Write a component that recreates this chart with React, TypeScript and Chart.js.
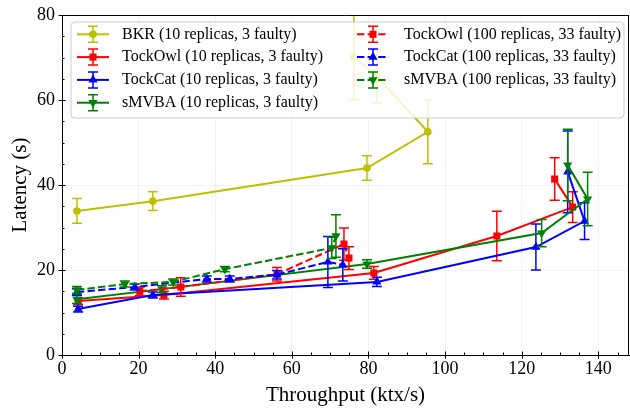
import React, { useEffect, useRef } from "react";
import { Chart, registerables } from "chart.js";

Chart.register(...registerables);

const FONT = "'Liberation Serif', 'Times New Roman', Times, serif";

// ---- axis ranges / ticks ----
const X_MIN = 0;
const X_MAX = 148;
const Y_MIN = 0;
const Y_MAX = 80;
const X_TICKS = [0, 20, 40, 60, 80, 100, 120, 140];
const Y_TICKS = [0, 20, 40, 60, 80];
const X_TITLE = "Throughput (ktx/s)";
const Y_TITLE = "Latency (s)";

// ---- series labels ----
const LABELS = [
  "BKR (10 replicas, 3 faulty)",
  "TockOwl (10 replicas, 3 faulty)",
  "TockCat (10 replicas, 3 faulty)",
  "sMVBA (10 replicas, 3 faulty)",
  "TockOwl (100 replicas, 33 faulty)",
  "TockCat (100 replicas, 33 faulty)",
  "sMVBA (100 replicas, 33 faulty)",
];

// ---- data (throughput ktx/s, latency s, latency error s) ----
const BKR_X = [3.9, 23.7, 79.6, 95.5, 82.2, 76.2];
const BKR_Y = [33.9, 36.2, 44.0, 52.5, 65.5, 70.1];
const BKR_E = [2.9, 2.2, 2.9, 7.5, 6.2, 10.0];

const OWL10_X = [4.2, 26.6, 81.4, 113.5, 133.3, 128.6];
const OWL10_Y = [12.7, 14.1, 19.3, 28.0, 34.8, 41.4];
const OWL10_E = [0.8, 0.9, 1.5, 5.8, 3.6, 5.0];

const CAT10_X = [4.2, 23.7, 82.2, 123.7, 136.4, 132.0];
const CAT10_Y = [10.8, 14.1, 17.2, 25.4, 31.5, 43.1];
const CAT10_E = [0.7, 0.7, 1.1, 5.4, 4.3, 9.6];

const SMVBA10_X = [3.9, 26.1, 79.6, 125.2, 137.2, 132.0];
const SMVBA10_Y = [13.1, 15.5, 21.4, 28.7, 36.7, 44.7];
const SMVBA10_E = [1.0, 0.8, 1.0, 3.2, 6.3, 8.4];

const OWL100_X = [20.3, 31.0, 56.1, 73.6, 74.9];
const OWL100_Y = [15.0, 16.0, 19.0, 26.1, 22.8];
const OWL100_E = [1.0, 2.2, 1.6, 3.8, 2.7];

const CAT100_X = [3.9, 19.0, 37.8, 43.8, 56.1, 69.4, 73.3];
const CAT100_Y = [14.8, 16.0, 17.9, 17.9, 18.9, 21.9, 21.2];
const CAT100_E = [0.8, 0.7, 0.7, 0.7, 1.0, 6.0, 3.8];

const SMVBA100_X = [3.9, 16.4, 29.0, 42.5, 70.4, 71.5];
const SMVBA100_Y = [15.3, 16.7, 17.2, 20.2, 25.2, 28.0];
const SMVBA100_E = [0.8, 0.7, 0.7, 0.6, 2.5, 5.0];

const SERIES = [
  { x: BKR_X, y: BKR_Y, e: BKR_E },
  { x: OWL10_X, y: OWL10_Y, e: OWL10_E },
  { x: CAT10_X, y: CAT10_Y, e: CAT10_E },
  { x: SMVBA10_X, y: SMVBA10_Y, e: SMVBA10_E },
  { x: OWL100_X, y: OWL100_Y, e: OWL100_E },
  { x: CAT100_X, y: CAT100_Y, e: CAT100_E },
  { x: SMVBA100_X, y: SMVBA100_Y, e: SMVBA100_E },
];

// ---- styles ----
const COLORS = ["#bfbf00", "#ff0000", "#0000ff", "#008000", "#ff0000", "#0000ff", "#008000"];
const MARKERS = ["circle", "square", "up", "down", "square", "up", "down"];
const DASHED = [false, false, false, false, true, true, true];
const DASH = [7.4, 3.2];
const LINE_W = 2;
const ERR_W = 1.5;
const CAP = 5;

function markerRadius(kind: string) {
  if (kind === "circle") return 3.8;
  if (kind === "square") return 5;
  return 5.3;
}

function drawMarker(ctx: CanvasRenderingContext2D, kind: string, x: number, y: number, color: string) {
  const r = markerRadius(kind);
  ctx.save();
  ctx.fillStyle = color;
  ctx.beginPath();
  if (kind === "circle") {
    ctx.arc(x, y, r, 0, Math.PI * 2);
  } else if (kind === "square") {
    const s = Math.SQRT1_2 * r;
    ctx.rect(x - s, y - s, 2 * s, 2 * s);
  } else {
    let a = kind === "up" ? 0 : Math.PI;
    for (let k = 0; k < 3; k++) {
      const px = x + Math.sin(a) * r;
      const py = y - Math.cos(a) * r;
      if (k === 0) ctx.moveTo(px, py);
      else ctx.lineTo(px, py);
      a += (2 * Math.PI) / 3;
    }
    ctx.closePath();
  }
  ctx.fill();
  ctx.restore();
}

function drawErrBar(ctx: CanvasRenderingContext2D, x: number, y1: number, y2: number, color: string) {
  ctx.save();
  ctx.strokeStyle = color;
  ctx.lineWidth = ERR_W;
  ctx.setLineDash([]);
  ctx.beginPath();
  ctx.moveTo(x, y1);
  ctx.lineTo(x, y2);
  ctx.moveTo(x - CAP, y1);
  ctx.lineTo(x + CAP, y1);
  ctx.moveTo(x - CAP, y2);
  ctx.lineTo(x + CAP, y2);
  ctx.stroke();
  ctx.restore();
}

const errorBarPlugin = {
  id: "errorBars",
  beforeDatasetDraw(chart: any, args: any) {
    const i = args.index;
    const s = SERIES[i];
    if (!s) return;
    const { ctx, chartArea } = chart;
    const xs = chart.scales.x;
    const ys = chart.scales.y;
    ctx.save();
    ctx.beginPath();
    ctx.rect(chartArea.left, chartArea.top, chartArea.right - chartArea.left, chartArea.bottom - chartArea.top);
    ctx.clip();
    for (let j = 0; j < s.x.length; j++) {
      const px = xs.getPixelForValue(s.x[j]);
      const pTop = ys.getPixelForValue(s.y[j] + s.e[j]);
      const pBot = ys.getPixelForValue(s.y[j] - s.e[j]);
      drawErrBar(ctx, px, pTop, pBot, COLORS[i]);
    }
    ctx.restore();
  },
};

const framePlugin = {
  id: "frameLegend",
  afterDraw(chart: any) {
    const { ctx, chartArea } = chart;
    const { left, right, top, bottom } = chartArea;
    const xs = chart.scales.x;
    const ys = chart.scales.y;
    ctx.save();
    ctx.strokeStyle = "#000";
    ctx.lineWidth = 1;
    ctx.beginPath();
    ctx.moveTo(left, top + 0.5);
    ctx.lineTo(right, top + 0.5);
    ctx.moveTo(right - 0.5, top);
    ctx.lineTo(right - 0.5, bottom);
    ctx.stroke();

    // ticks
    ctx.beginPath();
    for (let v = X_MIN; v <= X_MAX; v += 5) {
      const px = Math.round(xs.getPixelForValue(v)) + 0.5;
      const major = v % 20 === 0;
      ctx.moveTo(px, bottom + (major ? 3.5 : 0));
      ctx.lineTo(px, bottom - (major ? 3.5 : 2.5));
    }
    for (let v = Y_MIN; v <= Y_MAX; v += 5) {
      const py = Math.round(ys.getPixelForValue(v)) + 0.5;
      const major = v % 20 === 0;
      ctx.moveTo(left - (major ? 3.5 : 0), py);
      ctx.lineTo(left + (major ? 3.5 : 2.5), py);
    }
    ctx.stroke();

    // legend
    const bx = 71, by = 22, bw = 553, bh = 96, rr = 4;
    ctx.beginPath();
    ctx.moveTo(bx + rr, by);
    ctx.arcTo(bx + bw, by, bx + bw, by + bh, rr);
    ctx.arcTo(bx + bw, by + bh, bx, by + bh, rr);
    ctx.arcTo(bx, by + bh, bx, by, rr);
    ctx.arcTo(bx, by, bx + bw, by, rr);
    ctx.closePath();
    ctx.fillStyle = "rgba(255,255,255,0.8)";
    ctx.fill();
    ctx.strokeStyle = "#cccccc";
    ctx.lineWidth = 1;
    ctx.stroke();

    ctx.font = `16px ${FONT}`;
    ctx.textBaseline = "middle";
    ctx.textAlign = "left";
    const labels = chart.data.datasets.map((d: any) => d.label);
    labels.forEach((label: string, i: number) => {
      const col = i < 4 ? 0 : 1;
      const row = i < 4 ? i : i - 4;
      const y = 34.3 + row * 22.8;
      const hx0 = col === 0 ? 77 : 357;
      const hx1 = hx0 + 32;
      const mx = (hx0 + hx1) / 2;
      const tx = col === 0 ? 122 : 404;
      ctx.save();
      ctx.strokeStyle = COLORS[i];
      ctx.lineWidth = LINE_W;
      ctx.setLineDash(DASHED[i] ? DASH : []);
      ctx.beginPath();
      ctx.moveTo(hx0, y);
      ctx.lineTo(hx1, y);
      ctx.stroke();
      ctx.restore();
      drawErrBar(ctx, mx, y - 8, y + 8, COLORS[i]);
      drawMarker(ctx, MARKERS[i], mx, y, COLORS[i]);
      ctx.fillStyle = "#000";
      ctx.fillText(label, tx, y);
    });
    ctx.restore();
  },
};

export default function App() {
  const ref = useRef<HTMLCanvasElement>(null);
  useEffect(() => {
    document.body.style.margin = "0";
    const canvas = ref.current;
    if (!canvas) return;
    const datasets = SERIES.map((s, i) => ({
      label: LABELS[i],
      data: s.x.map((x, j) => ({ x, y: s.y[j] })),
      borderColor: COLORS[i],
      backgroundColor: COLORS[i],
      borderWidth: LINE_W,
      borderDash: DASHED[i] ? DASH : [],
      pointStyle: MARKERS[i] === "circle" ? "circle" : MARKERS[i] === "square" ? "rect" : "triangle",
      pointRotation: MARKERS[i] === "down" ? 180 : 0,
      pointRadius: markerRadius(MARKERS[i]),
      pointBorderWidth: 0,
      pointBackgroundColor: COLORS[i],
      showLine: true,
      fill: false,
      tension: 0,
      order: 10 - i,
    }));
    const chart = new Chart(canvas, {
      type: "line",
      data: { datasets },
      options: {
        responsive: false,
        animation: false,
        devicePixelRatio: 1,
        layout: { autoPadding: false, padding: { top: 15, right: 1, left: 0, bottom: 0 } },
        plugins: { legend: { display: false }, tooltip: { enabled: false } },
        scales: {
          x: {
            type: "linear",
            min: X_MIN,
            max: X_MAX,
            afterFit: (s: any) => {
              s.height = 53;
              s.paddingLeft = 0;
              s.paddingRight = 0;
            },
            afterBuildTicks: (s: any) => {
              s.ticks = X_TICKS.map((v) => ({ value: v }));
            },
            ticks: {
              font: { family: FONT, size: 18 },
              color: "#000",
              padding: 3,
              maxRotation: 0,
              autoSkip: false,
            },
            grid: { color: "rgba(0,0,0,0.05)", drawTicks: false },
            border: { display: true, color: "#000", width: 1 },
            title: {
              display: true,
              text: X_TITLE,
              font: { family: FONT, size: 21 },
              color: "#000",
              padding: { top: 0, bottom: 0 },
            },
          },
          y: {
            type: "linear",
            min: Y_MIN,
            max: Y_MAX,
            afterFit: (s: any) => {
              s.width = 62;
              s.paddingTop = 0;
              s.paddingBottom = 0;
            },
            afterBuildTicks: (s: any) => {
              s.ticks = Y_TICKS.map((v) => ({ value: v }));
            },
            ticks: {
              font: { family: FONT, size: 18 },
              color: "#000",
              padding: 7,
            },
            grid: { color: "rgba(0,0,0,0.05)", drawTicks: false },
            border: { display: true, color: "#000", width: 1 },
            title: {
              display: true,
              text: Y_TITLE,
              font: { family: FONT, size: 21 },
              color: "#000",
              padding: { top: 8, bottom: 0 },
            },
          },
        },
      },
      plugins: [errorBarPlugin, framePlugin],
    } as any);
    return () => chart.destroy();
  }, []);
  return (
    <div style={{ width: 630, height: 408 }}>
      <canvas ref={ref} width={630} height={408} style={{ display: "block" }} />
    </div>
  );
}
